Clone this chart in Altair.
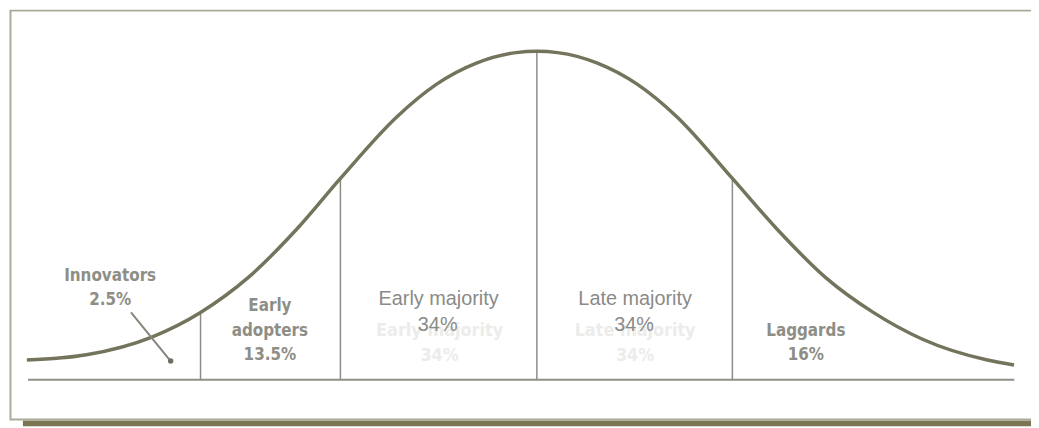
import altair as alt
import pandas as pd

# Bell curve (x in standard deviations from the mean,
# y as percent of the peak height)
curve_x = [-2.596, -2.293, -1.960, -1.712, -1.470, -1.217, -1.000, -0.712,
           -0.510, -0.308, -0.106, 0.0, 0.106, 0.308, 0.510, 0.712, 0.995,
           1.217, 1.470, 1.712, 1.960, 2.293, 2.429]
curve_y = [6.0, 7.6, 13.0, 20.5, 31.1, 46.2, 61.3, 80.1,
           90.0, 96.4, 99.6, 100.0, 99.6, 96.4, 90.0, 80.1, 61.3,
           46.2, 31.1, 20.5, 12.4, 6.0, 4.5]

# Segment dividers
divider_x = [-1.712, -1.0, 0.0, 0.995]
divider_top = [20.5, 61.3, 100.0, 61.3]

# Baseline extent
base_x = [-2.59]
base_x2 = [2.43]

# Innovators pointer
pointer_x = [-2.066]
pointer_y = [20.5]
pointer_x2 = [-1.864]
pointer_y2 = [5.7]

# Segment labels (condensed style)
lab_a_text = ["Innovators", "2.5%", "Early", "adopters", "13.5%", "Laggards", "16%"]
lab_a_x = [-2.172, -2.172, -1.359, -1.359, -1.359, 1.369, 1.369]
lab_a_y = [31.7, 24.2, 22.4, 14.8, 7.6, 14.8, 7.6]

# Majority labels
lab_b_text = ["Early majority", "34%", "Late majority", "34%"]
lab_b_x = [-0.500, -0.505, 0.500, 0.495]
lab_b_y = [24.5, 16.6, 24.5, 16.6]

# Faint ghost labels beneath
ghost_text = ["Early majority", "34%", "Late majority", "34%"]
ghost_x = [-0.495, -0.495, 0.500, 0.500]
ghost_y = [14.8, 7.3, 14.8, 7.3]

W, H = 1031, 420
xs = alt.Scale(domain=[-2.692, 2.515], nice=False, zero=False)
ys = alt.Scale(domain=[-14.2, 112.69], nice=False, zero=False)

curve_df = pd.DataFrame({"x": curve_x, "y": curve_y})
div_df = pd.DataFrame({"x": divider_x, "y": [0.0] * 4, "y2": divider_top})
base_df = pd.DataFrame({"x": base_x, "x2": base_x2, "y": [0.0]})
ptr_df = pd.DataFrame({"x": pointer_x, "y": pointer_y, "x2": pointer_x2, "y2": pointer_y2})
dot_df = pd.DataFrame({"x": pointer_x2, "y": pointer_y2})
lab_a = pd.DataFrame({"t": lab_a_text, "x": lab_a_x, "y": lab_a_y})
lab_b = pd.DataFrame({"t": lab_b_text, "x": lab_b_x, "y": lab_b_y})
ghost = pd.DataFrame({"t": ghost_text, "x": ghost_x, "y": ghost_y})
one = pd.DataFrame({"k": [0]})

shadow = alt.Chart(one).mark_rect(color="#7a7552").encode(
    x=alt.value(15), x2=alt.value(1040), y=alt.value(414), y2=alt.value(420))
frame = alt.Chart(one).mark_rect(filled=False, stroke="#a9ab9a", strokeWidth=2).encode(
    x=alt.value(2.5), x2=alt.value(1045), y=alt.value(1), y2=alt.value(413))

baseline = alt.Chart(base_df).mark_rule(color="#909088", strokeWidth=2).encode(
    x=alt.X("x:Q", scale=xs, axis=None), x2="x2:Q",
    y=alt.Y("y:Q", scale=ys, axis=None))

dividers = alt.Chart(div_df).mark_rule(color="#8c8c84", strokeWidth=1.5).encode(
    x=alt.X("x:Q", scale=xs, axis=None),
    y=alt.Y("y:Q", scale=ys, axis=None), y2="y2:Q")

curve = alt.Chart(curve_df).mark_line(color="#74745c", strokeWidth=3.5,
                                      interpolate="monotone").encode(
    x=alt.X("x:Q", scale=xs, axis=None),
    y=alt.Y("y:Q", scale=ys, axis=None))

pointer = alt.Chart(ptr_df).mark_rule(color="#85857c", strokeWidth=2).encode(
    x=alt.X("x:Q", scale=xs, axis=None), x2="x2:Q",
    y=alt.Y("y:Q", scale=ys, axis=None), y2="y2:Q")

dot = alt.Chart(dot_df).mark_circle(color="#6e6e62", size=30, opacity=1).encode(
    x=alt.X("x:Q", scale=xs, axis=None),
    y=alt.Y("y:Q", scale=ys, axis=None))

ghost_t = alt.Chart(ghost).mark_text(font="DejaVu Sans Condensed", fontWeight="bold",
                                     fontSize=18, color="#ececea", baseline="middle",
                                     align="center").encode(
    x=alt.X("x:Q", scale=xs, axis=None),
    y=alt.Y("y:Q", scale=ys, axis=None), text="t:N")

text_a = alt.Chart(lab_a).mark_text(font="DejaVu Sans Condensed", fontWeight="bold",
                                    fontSize=17, color="#8e8e86", baseline="middle",
                                    align="center").encode(
    x=alt.X("x:Q", scale=xs, axis=None),
    y=alt.Y("y:Q", scale=ys, axis=None), text="t:N")

text_b = alt.Chart(lab_b).mark_text(font="Liberation Sans", fontSize=20,
                                    color="#8a8a88", baseline="middle",
                                    align="center").encode(
    x=alt.X("x:Q", scale=xs, axis=None),
    y=alt.Y("y:Q", scale=ys, axis=None), text="t:N")

chart = alt.layer(shadow, frame, baseline, dividers, ghost_t, curve, pointer, dot,
                  text_a, text_b).properties(
    width=W, height=H, padding=0,
    autosize=alt.AutoSizeParams(type="none"),
    background="white",
).configure_view(stroke=None)

chart.save("out.html", embed_options={"renderer": "svg", "actions": False})
